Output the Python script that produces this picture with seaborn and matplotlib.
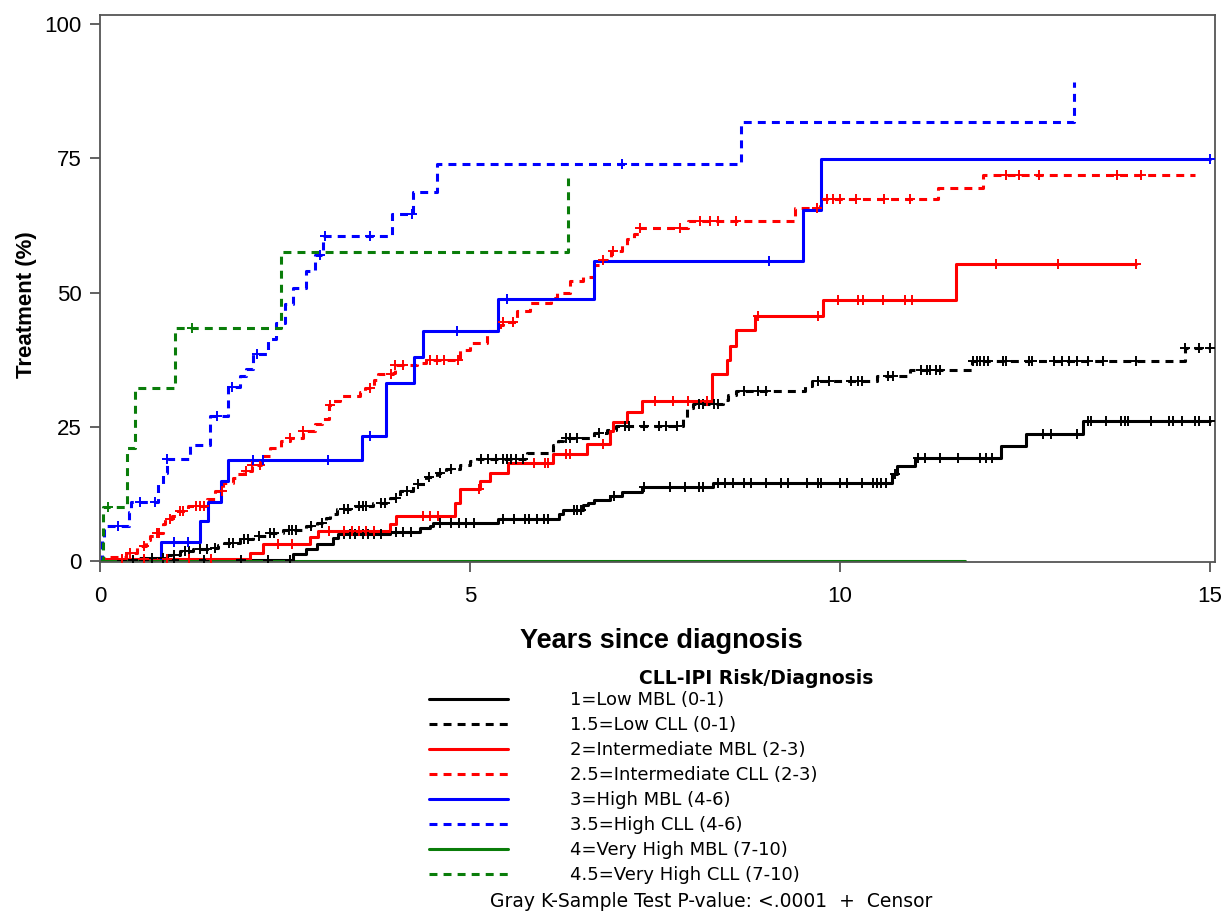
import matplotlib
matplotlib.use("Agg")
import matplotlib.pyplot as plt
from matplotlib.lines import Line2D
import numpy as np
import pandas as pd
import seaborn as sns

# Cumulative incidence of treatment (%), step times in years since diagnosis
low_mbl_t = [0.3, 2.61, 2.79, 2.93, 3.15, 3.22, 3.92, 4.32, 4.46, 4.50, 5.38, 6.20, 6.26,
             6.53, 6.60, 6.67, 6.89, 7.05, 7.32, 8.29, 10.70, 10.77, 11.01, 12.18, 12.52, 13.29]
low_mbl_y = [0.3, 1.3, 2.2, 3.2, 4.4, 5.0, 5.5, 6.1, 6.5, 7.1, 7.8, 8.7, 9.5,
             10.4, 10.9, 11.4, 12.1, 12.9, 13.9, 14.6, 16.2, 17.7, 19.3, 21.4, 23.7, 26.1]
low_mbl_end = 15.0
low_mbl_cens = [0.6, 1.0, 1.4, 1.9, 2.27, 2.57, 3.3, 3.38, 3.45, 3.55, 3.62, 3.7, 3.8, 4.0,
                4.1, 4.2, 4.6, 4.75, 4.85, 4.95, 5.05, 5.45, 5.6, 5.75, 5.8, 5.9, 6.0, 6.05,
                6.4, 6.45, 6.5, 6.95, 7.35, 7.7, 7.9, 8.1, 8.15, 8.35, 8.45, 8.55, 8.7, 8.8,
                9.0, 9.2, 9.3, 9.55, 9.7, 9.75, 10.0, 10.1, 10.3, 10.45, 10.5, 10.55, 10.62,
                10.74, 11.05, 11.15, 11.35, 11.6, 11.9, 11.98, 12.05, 12.75, 12.85, 13.2,
                13.35, 13.4, 13.6, 13.8, 13.85, 13.9, 14.2, 14.45, 14.5, 14.62, 14.8, 14.85, 15.0]

low_cll_t = [0.05, 0.5, 0.9, 1.08, 1.26, 1.49, 1.6, 1.67, 1.89, 2.07, 2.25, 2.48, 2.79, 2.93,
             3.05, 3.11, 3.20, 3.42, 3.69, 3.92, 4.05, 4.23, 4.41, 4.55, 4.68, 4.86, 5.00,
             5.10, 5.77, 6.12, 6.19, 6.26, 6.67, 6.85, 6.98, 7.88, 7.93, 8.02, 8.42, 8.49,
             8.60, 9.53, 9.62, 10.50, 10.95, 11.78, 14.66]
low_cll_y = [0.3, 0.6, 1.1, 1.9, 2.2, 2.5, 3.0, 3.3, 4.1, 4.7, 5.3, 5.9, 6.6, 7.2,
             8.0, 8.7, 9.7, 10.3, 10.9, 11.8, 13.1, 14.3, 15.6, 16.5, 17.1, 18.0, 18.6,
             19.1, 20.2, 21.7, 22.4, 23.0, 23.9, 24.5, 25.1, 26.7, 28.6, 29.2, 30.1, 31.0,
             31.7, 32.6, 33.5, 34.5, 35.6, 37.2, 39.7]
low_cll_end = 15.0
low_cll_cens = [0.3, 0.45, 0.7, 0.85, 1.0, 1.15, 1.2, 1.35, 1.45, 1.55, 1.75, 1.8, 1.95, 2.0,
                2.15, 2.3, 2.35, 2.55, 2.6, 2.65, 2.85, 3.0, 3.3, 3.35, 3.5, 3.55, 3.6, 3.8,
                3.85, 4.0, 4.15, 4.3, 4.45, 4.6, 4.75, 5.15, 5.25, 5.35, 5.45, 5.5, 5.55,
                5.62, 5.72, 6.3, 6.35, 6.45, 6.75, 7.1, 7.15, 7.35, 7.55, 7.65, 7.8, 8.1,
                8.15, 8.3, 8.35, 8.7, 8.9, 9.0, 9.7, 9.85, 10.15, 10.25, 10.3, 10.65, 10.72,
                11.1, 11.18, 11.22, 11.3, 11.35, 11.8, 11.85, 11.9, 11.95, 12.0, 12.2, 12.25,
                12.55, 12.6, 12.9, 13.0, 13.1, 13.2, 13.35, 13.55, 14.0, 14.66, 14.85, 15.0]

int_mbl_t = [0.05, 2.03, 2.20, 2.84, 2.95, 3.92, 4.00, 4.80, 4.86, 5.14, 5.27, 5.52, 6.12,
             6.58, 6.89, 6.94, 7.12, 7.32, 8.27, 8.47, 8.51, 8.60, 8.85, 9.77, 11.57]
int_mbl_y = [0.4, 1.6, 3.2, 4.5, 5.6, 7.0, 8.4, 10.9, 13.4, 14.9, 16.5, 18.3, 19.9,
             21.9, 24.2, 25.9, 27.8, 29.8, 34.8, 37.5, 40.0, 43.0, 45.7, 48.7, 55.3]
int_mbl_end = 14.0
int_mbl_cens = [0.3, 0.6, 0.9, 1.2, 1.5, 2.4, 2.6, 3.1, 3.3, 3.4, 3.5, 3.6, 3.7, 4.37, 4.46,
                4.57, 5.12, 5.86, 6.01, 6.06, 6.3, 6.35, 6.8, 7.5, 7.75, 7.95, 8.2, 8.9, 9.7,
                9.98, 10.25, 10.31, 10.58, 10.88, 10.97, 12.11, 12.95, 14.0]

int_cll_t = [0.05, 0.35, 0.5, 0.62, 0.68, 0.75, 0.85, 0.88, 0.97, 1.05, 1.19, 1.45, 1.56,
             1.66, 1.80, 1.85, 1.95, 2.05, 2.18, 2.30, 2.45, 2.57, 2.75, 2.90, 3.00, 3.10,
             3.15, 3.24, 3.52, 3.58, 3.70, 3.76, 3.96, 3.99, 4.28, 4.40, 4.86, 5.00, 5.23,
             5.40, 5.45, 5.63, 5.81, 6.10, 6.17, 6.35, 6.53, 6.67, 6.78, 6.90, 7.05, 7.12,
             7.22, 7.30, 7.95, 9.39, 9.73, 11.33, 11.94]
int_cll_y = [0.7, 1.6, 2.8, 4.0, 4.7, 5.3, 7.0, 7.8, 8.4, 9.4, 10.3, 11.5, 13.1,
             14.6, 15.5, 16.2, 16.8, 18.0, 19.5, 21.1, 22.3, 23.0, 24.2, 25.5, 26.4, 29.0,
             29.8, 30.7, 31.5, 32.3, 33.7, 34.8, 35.1, 36.6, 36.9, 37.5, 39.4, 40.6, 42.8,
             44.0, 44.5, 46.5, 48.1, 49.0, 49.9, 52.1, 53.0, 55.2, 56.1, 57.7, 58.8, 59.9,
             61.0, 62.0, 63.3, 65.7, 67.4, 69.5, 71.9]
int_cll_end = 14.8
int_cll_cens = [0.4, 0.6, 0.77, 0.8, 0.95, 1.08, 1.12, 1.3, 1.35, 1.4, 1.65, 1.98, 2.05,
                2.16, 2.57, 2.75, 3.11, 3.65, 3.93, 3.99, 4.1, 4.46, 4.55, 4.65, 4.84, 5.45,
                5.58, 6.8, 6.94, 7.3, 7.84, 8.11, 8.24, 8.35, 8.6, 9.69, 9.82, 9.91, 10.0,
                10.22, 10.6, 10.95, 12.25, 12.42, 12.69, 13.74, 14.07]

high_mbl_t = [0.82, 1.35, 1.46, 1.64, 1.73, 3.54, 3.87, 4.25, 4.36, 5.38, 6.68, 9.50, 9.74]
high_mbl_y = [3.5, 7.5, 11.0, 14.9, 18.8, 23.4, 33.2, 38.0, 42.8, 48.9, 55.9, 65.3, 74.8]
high_mbl_end = 15.0
high_mbl_cens = [1.0, 1.19, 2.07, 2.2, 3.08, 3.65, 4.82, 5.5, 9.04, 15.0]

high_cll_t = [0.03, 0.06, 0.39, 0.42, 0.79, 0.85, 0.90, 1.22, 1.49, 1.73, 1.89, 1.98, 2.07,
              2.27, 2.38, 2.50, 2.61, 2.79, 2.90, 3.02, 3.94, 4.23, 4.55, 8.66, 13.16]
high_cll_y = [4.0, 6.6, 9.1, 11.1, 14.3, 16.5, 19.0, 21.7, 27.0, 32.5, 34.5, 35.7, 38.5,
              41.3, 44.4, 47.8, 50.9, 54.0, 57.0, 60.5, 64.6, 68.8, 74.0, 81.7, 89.3]
high_cll_end = 13.16
high_cll_cens = [0.25, 0.54, 0.74, 0.9, 1.58, 1.78, 2.12, 2.97, 3.04, 3.65, 4.22, 7.06]

vhigh_mbl_t = []
vhigh_mbl_y = []
vhigh_mbl_end = 11.69
vhigh_mbl_cens = []

vhigh_cll_t = [0.04, 0.37, 0.47, 1.01, 2.45, 6.32]
vhigh_cll_y = [10.0, 21.1, 32.3, 43.5, 57.6, 71.3]
vhigh_cll_end = 6.32
vhigh_cll_cens = [0.11, 1.24]

GREEN = "#0a7d0a"
DASH = (0, (2.6, 2.0))

groups = [
    ("1=Low MBL (0-1)", "black", "-", low_mbl_t, low_mbl_y, low_mbl_end, low_mbl_cens),
    ("1.5=Low CLL (0-1)", "black", DASH, low_cll_t, low_cll_y, low_cll_end, low_cll_cens),
    ("2=Intermediate MBL (2-3)", "#ff0000", "-", int_mbl_t, int_mbl_y, int_mbl_end, int_mbl_cens),
    ("2.5=Intermediate CLL (2-3)", "#ff0000", DASH, int_cll_t, int_cll_y, int_cll_end, int_cll_cens),
    ("3=High MBL (4-6)", "#0000ff", "-", high_mbl_t, high_mbl_y, high_mbl_end, high_mbl_cens),
    ("3.5=High CLL (4-6)", "#0000ff", DASH, high_cll_t, high_cll_y, high_cll_end, high_cll_cens),
    ("4=Very High MBL (7-10)", GREEN, "-", vhigh_mbl_t, vhigh_mbl_y, vhigh_mbl_end, vhigh_mbl_cens),
    ("4.5=Very High CLL (7-10)", GREEN, DASH, vhigh_cll_t, vhigh_cll_y, vhigh_cll_end, vhigh_cll_cens),
]


def step_frame(t, y, end):
    x = [0.0] + list(t)
    v = [0.0] + list(y)
    if end > x[-1]:
        x.append(end)
        v.append(v[-1])
    return pd.DataFrame({"years": x, "pct": v})


def censor_frame(steps, cens):
    idx = np.searchsorted(steps["years"].values, cens, side="right") - 1
    return pd.DataFrame({"years": cens, "pct": steps["pct"].values[idx]})


def main():
    sns.set_theme(style="white")
    plt.rcParams["font.family"] = ["Liberation Sans", "DejaVu Sans"]
    plt.rcParams["text.color"] = "black"

    fig = plt.figure(figsize=(12.28, 9.13), dpi=100)
    ax = fig.add_axes([100 / 1228, 1 - 562 / 913, 1115 / 1228, 547 / 913])

    handles = []
    for label, color, ls, t, y, end, cens in groups:
        d = step_frame(t, y, end)
        sns.lineplot(data=d, x="years", y="pct", ax=ax, color=color, linestyle=ls,
                     drawstyle="steps-post", lw=2.2, estimator=None, sort=False,
                     legend=False)
        if len(cens):
            c = censor_frame(d, cens)
            sns.scatterplot(data=c, x="years", y="pct", ax=ax, color=color, marker="+",
                            s=55, linewidth=1.4, legend=False, zorder=3)
        handles.append(Line2D([], [], color=color, lw=2.2, linestyle=ls, label=label))

    ax.set_xlim(0, 15.07)
    ax.set_ylim(-0.15, 101.7)
    ax.set_xticks([0, 5, 10, 15])
    ax.set_yticks([0, 25, 50, 75, 100])
    ax.set_xlabel("")
    ax.set_ylabel("")
    for s in ax.spines.values():
        s.set_color("#555555")
        s.set_linewidth(1.3)
    ax.tick_params(axis="both", which="major", direction="out", length=7, width=1.3,
                   color="#555555", labelsize=16, labelcolor="black", bottom=True, left=True)
    ax.tick_params(axis="x", pad=10)
    ax.tick_params(axis="y", pad=6)

    fig.text(27 / 1228, 1 - 305 / 913, "Treatment (%)", rotation=90, ha="center",
             va="center", fontsize=16, fontweight="bold")
    fig.text(661 / 1228, 1 - 641 / 913, "Years since diagnosis", ha="center",
             va="center", fontsize=19.5, fontweight="bold")

    lfam = ["DejaVu Sans"]
    fig.text(756 / 1228, 1 - 678 / 913, "CLL-IPI Risk/Diagnosis", ha="center",
             va="center", fontsize=13.5, fontweight="bold", family=lfam)
    fig.legend(handles=handles, loc="upper left",
               bbox_to_anchor=(429 / 1228, 1 - 691 / 913), frameon=False,
               borderpad=0, borderaxespad=0, handlelength=4.4, handletextpad=3.4,
               labelspacing=0.39, prop={"family": lfam, "size": 13})
    fig.text(711 / 1228, 1 - 901 / 913, "Gray K-Sample Test P-value: <.0001  +  Censor",
             ha="center", va="center", fontsize=13.5, family=lfam)

    fig.savefig("out.png", dpi=100)


if __name__ == "__main__":
    main()
